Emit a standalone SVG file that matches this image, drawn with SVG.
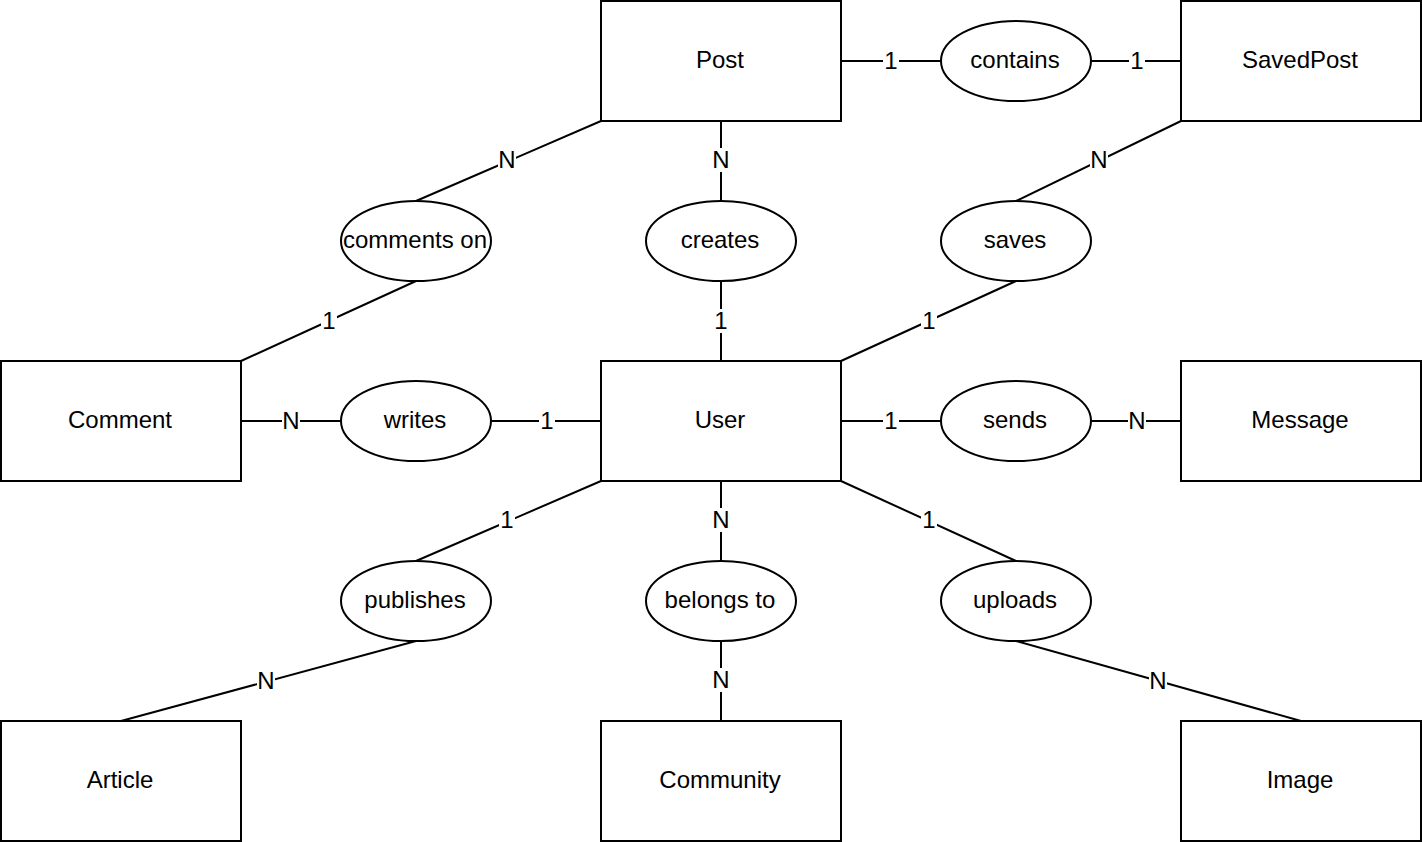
<svg xmlns="http://www.w3.org/2000/svg" width="1422" height="842" viewBox="0 0 1422 842">
<style>
.ent rect{fill:#fff;stroke:#000;stroke-width:2}
.rel ellipse{fill:#fff;stroke:#000;stroke-width:2}
text{font-family:"Liberation Sans",Arial,sans-serif;font-size:24px;fill:#000;text-anchor:middle}
#connectors line{stroke:#000;stroke-width:2}
#connectors rect{fill:#fff}
</style>
<rect width="1422" height="842" fill="#fff"/>
<g id="connectors">
<line x1="841" y1="61" x2="941" y2="61"/>
<line x1="1091" y1="61" x2="1181" y2="61"/>
<line x1="601" y1="121" x2="416" y2="201"/>
<line x1="416" y1="281" x2="241" y2="361"/>
<line x1="721" y1="121" x2="721" y2="201"/>
<line x1="721" y1="281" x2="721" y2="361"/>
<line x1="1181" y1="121" x2="1016" y2="201"/>
<line x1="1016" y1="281" x2="841" y2="361"/>
<line x1="241" y1="421" x2="341" y2="421"/>
<line x1="491" y1="421" x2="601" y2="421"/>
<line x1="841" y1="421" x2="941" y2="421"/>
<line x1="1091" y1="421" x2="1181" y2="421"/>
<line x1="601" y1="481" x2="416" y2="561"/>
<line x1="416" y1="641" x2="121" y2="721"/>
<line x1="721" y1="481" x2="721" y2="561"/>
<line x1="721" y1="641" x2="721" y2="721"/>
<line x1="841" y1="481" x2="1016" y2="561"/>
<line x1="1016" y1="641" x2="1301" y2="721"/>
<g>
<rect x="883" y="49" width="16" height="24"/><text x="891" y="69">1</text>
<rect x="1129" y="49" width="16" height="24"/><text x="1137" y="69">1</text>
<rect x="498" y="148" width="18" height="24"/><text x="507" y="168">N</text>
<rect x="321" y="309" width="16" height="24"/><text x="329" y="329">1</text>
<rect x="712" y="148" width="18" height="24"/><text x="721" y="168">N</text>
<rect x="713" y="309" width="16" height="24"/><text x="721" y="329">1</text>
<rect x="1090" y="148" width="18" height="24"/><text x="1099" y="168">N</text>
<rect x="921" y="309" width="16" height="24"/><text x="929" y="329">1</text>
<rect x="282" y="409" width="18" height="24"/><text x="291" y="429">N</text>
<rect x="539" y="409" width="16" height="24"/><text x="547" y="429">1</text>
<rect x="883" y="409" width="16" height="24"/><text x="891" y="429">1</text>
<rect x="1128" y="409" width="18" height="24"/><text x="1137" y="429">N</text>
<rect x="499" y="508" width="16" height="24"/><text x="507" y="528">1</text>
<rect x="257" y="669" width="18" height="24"/><text x="266" y="689">N</text>
<rect x="712" y="508" width="18" height="24"/><text x="721" y="528">N</text>
<rect x="712" y="668" width="18" height="24"/><text x="721" y="688">N</text>
<rect x="921" y="508" width="16" height="24"/><text x="929" y="528">1</text>
<rect x="1149" y="669" width="18" height="24"/><text x="1158" y="689">N</text>
</g>
</g>
<g id="Post" class="ent"><rect x="601" y="1" width="240" height="120"/><text x="720" y="68">Post</text></g>
<g id="SavedPost" class="ent"><rect x="1181" y="1" width="240" height="120"/><text x="1300" y="68">SavedPost</text></g>
<g id="Comment" class="ent"><rect x="1" y="361" width="240" height="120"/><text x="120" y="428">Comment</text></g>
<g id="User" class="ent"><rect x="601" y="361" width="240" height="120"/><text x="720" y="428">User</text></g>
<g id="Message" class="ent"><rect x="1181" y="361" width="240" height="120"/><text x="1300" y="428">Message</text></g>
<g id="Article" class="ent"><rect x="1" y="721" width="240" height="120"/><text x="120" y="788">Article</text></g>
<g id="Community" class="ent"><rect x="601" y="721" width="240" height="120"/><text x="720" y="788">Community</text></g>
<g id="Image" class="ent"><rect x="1181" y="721" width="240" height="120"/><text x="1300" y="788">Image</text></g>
<g id="contains" class="rel"><ellipse cx="1016" cy="61" rx="75" ry="40"/><text x="1015" y="68">contains</text></g>
<g id="comments_on" class="rel"><ellipse cx="416" cy="241" rx="75" ry="40"/><text x="415" y="248">comments on</text></g>
<g id="creates" class="rel"><ellipse cx="721" cy="241" rx="75" ry="40"/><text x="720" y="248">creates</text></g>
<g id="saves" class="rel"><ellipse cx="1016" cy="241" rx="75" ry="40"/><text x="1015" y="248">saves</text></g>
<g id="writes" class="rel"><ellipse cx="416" cy="421" rx="75" ry="40"/><text x="415" y="428">writes</text></g>
<g id="sends" class="rel"><ellipse cx="1016" cy="421" rx="75" ry="40"/><text x="1015" y="428">sends</text></g>
<g id="publishes" class="rel"><ellipse cx="416" cy="601" rx="75" ry="40"/><text x="415" y="608">publishes</text></g>
<g id="belongs_to" class="rel"><ellipse cx="721" cy="601" rx="75" ry="40"/><text x="720" y="608">belongs to</text></g>
<g id="uploads" class="rel"><ellipse cx="1016" cy="601" rx="75" ry="40"/><text x="1015" y="608">uploads</text></g>
</svg>
